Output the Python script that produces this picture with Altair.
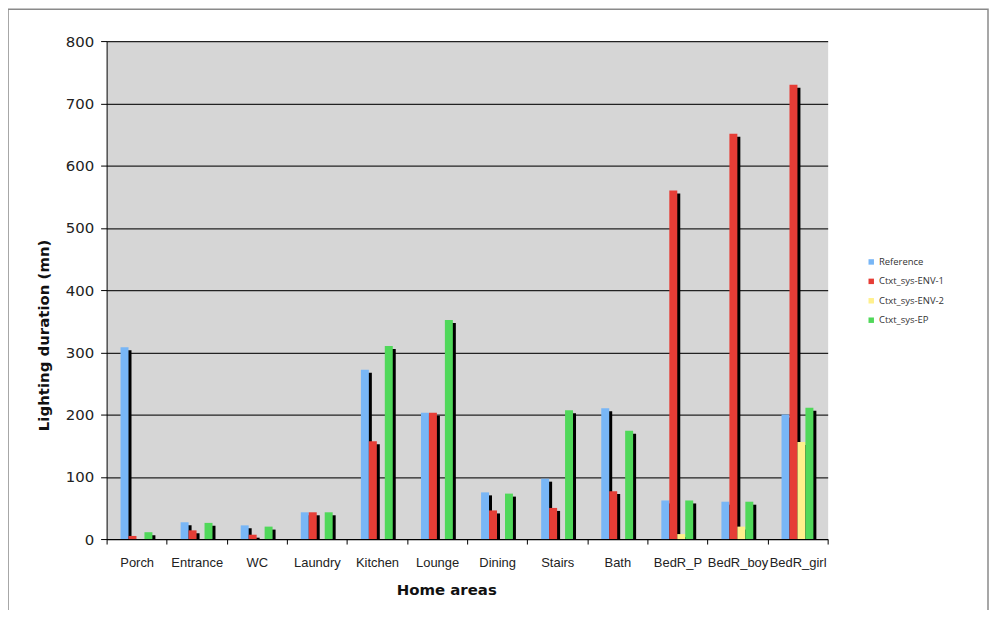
import altair as alt
import pandas as pd

areas = ["Porch", "Entrance", "WC", "Laundry", "Kitchen", "Lounge", "Dining",
         "Stairs", "Bath", "BedR_P", "BedR_boy", "BedR_girl"]
series = ["Reference", "Ctxt_sys-ENV-1", "Ctxt_sys-ENV-2", "Ctxt_sys-EP"]
reference = [308, 27, 22, 43, 272, 203, 75, 97, 210, 62, 60, 200]
env1 = [5, 14, 7, 43, 157, 203, 46, 50, 77, 560, 651, 730]
env2 = [0, 0, 0, 0, 0, 0, 0, 0, 0, 8, 20, 156]
ep = [11, 26, 20, 43, 310, 352, 73, 207, 174, 62, 60, 211]
colors = ["#78b6f6", "#e63d36", "#fff08c", "#50d85a"]

rows = []
for name, vals in zip(series, [reference, env1, env2, ep]):
    for a, v in zip(areas, vals):
        rows.append({"area": a, "series": name, "value": v})
df = pd.DataFrame(rows)
df = df[df["value"] > 0]

x_enc = alt.X("area:N", sort=areas, title="Home areas",
              scale=alt.Scale(paddingInner=0, paddingOuter=0),
              axis=alt.Axis(labelAngle=0, tickBand="extent", tickSize=5,
                            tickColor="#000", domainColor="#000",
                            labelFont="Liberation Sans", labelFontSize=13,
                            labelColor="#222", labelPadding=13,
                            titleFont="DejaVu Sans", titleFontSize=15,
                            titleFontWeight="bold", titleColor="#111",
                            titlePadding=13, titleX=341))
y_enc = alt.Y("value:Q", title="Lighting duration (mn)",
              scale=alt.Scale(domain=[0, 800], nice=False),
              axis=alt.Axis(values=list(range(0, 801, 100)), grid=True,
                            gridColor="#222", gridWidth=1.2, tickSize=6,
                            tickColor="#000", domainColor="#000",
                            labelFont="DejaVu Sans", labelFontSize=15,
                            labelColor="#222", labelPadding=7,
                            titleFont="DejaVu Sans", titleFontSize=15,
                            titleFontWeight="bold", titleColor="#111",
                            titlePadding=14, titleY=295))

shadow = alt.Chart(df).mark_bar(color="#000", yOffset=3, clip=True).encode(
    x=x_enc,
    xOffset=alt.XOffset("series:N", sort=series,
                        scale=alt.Scale(domain=series, range=[17, 49],
                                        paddingInner=0, paddingOuter=0)),
    y=y_enc,
)

bars = alt.Chart(df).mark_bar().encode(
    x=x_enc,
    xOffset=alt.XOffset("series:N", sort=series,
                        scale=alt.Scale(domain=series, range=[14, 46],
                                        paddingInner=0, paddingOuter=0)),
    y=y_enc,
    color=alt.Color("series:N", sort=series,
                    scale=alt.Scale(domain=series, range=colors),
                    legend=alt.Legend(title=None, orient="none", legendX=763,
                                      legendY=217, symbolType="square",
                                      symbolSize=30, symbolStrokeWidth=0,
                                      labelFont="Open Sans", labelFontSize=9.5,
                                      labelColor="#333", rowPadding=8.5,
                                      labelOffset=3)),
)

frame = alt.Chart(pd.DataFrame({"k": [0]})).mark_rect(
    fill="transparent", stroke="#8a8a8a", strokeWidth=1.5).encode(
    x=alt.value(-99), x2=alt.value(885), y=alt.value(-32), y2=alt.value(575))

chart = alt.layer(frame, shadow, bars).resolve_scale(
    xOffset="independent"
).properties(
    width=724, height=500,
    autosize=alt.AutoSizeParams(type="none"),
    padding={"left": 99, "top": 32, "right": 162, "bottom": 70},
    background="white",
).configure_view(fill="#d6d6d6", stroke="transparent")

chart.save("out.html", embed_options={"renderer": "svg", "actions": False})
